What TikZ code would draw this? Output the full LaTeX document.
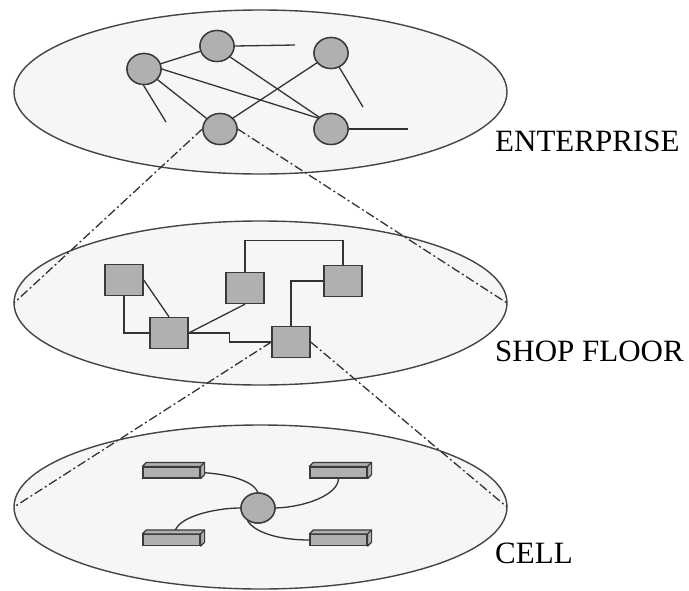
\documentclass[tikz,border=0pt]{standalone}
\usepackage{fontspec}
\setmainfont{Liberation Serif}
\usetikzlibrary{shapes.geometric,calc}
\definecolor{planefill}{HTML}{F6F6F6}
\definecolor{planeedge}{HTML}{444444}
\definecolor{nodefill}{HTML}{B0B0B0}
\definecolor{nodeedge}{HTML}{3A3A3A}
\definecolor{wire}{HTML}{333333}
\begin{document}
\begin{tikzpicture}[x=1pt,y=-1pt,
  plane/.style={ellipse,draw=planeedge,line width=1.4pt,fill=planefill,inner sep=0pt,outer sep=0pt},
  station/.style={ellipse,draw=nodeedge,line width=1.4pt,fill=nodefill,inner sep=0pt,minimum width=34pt,minimum height=31pt},
  machine/.style={rectangle,draw=nodeedge,line width=1.4pt,fill=nodefill,inner sep=0pt,minimum width=38pt,minimum height=31pt},
  device/.style={rectangle,draw=nodeedge,line width=1.2pt,fill=nodefill,inner sep=0pt,minimum width=57pt,minimum height=11pt},
  barface/.style={draw=nodeedge,line width=1.2pt,fill=nodefill,line join=round},
  wireline/.style={draw=wire,line width=1.3pt},
  zoomline/.style={draw=wire,line width=1.3pt,dash pattern=on 9pt off 3pt on 2pt off 3pt},
  level/.style={anchor=base west,inner sep=0pt,font=\fontsize{31}{37}\selectfont}]
\useasboundingbox (0,0) rectangle (689,590);

% planes
\node[plane,minimum width=493pt,minimum height=164pt] (ent) at (260.5,92) {};
\node[plane,minimum width=493pt,minimum height=164pt] (shop) at (260.5,303) {};
\node[plane,minimum width=493pt,minimum height=164pt] (cell) at (260.5,507) {};

% enterprise stations
\node[station] (A) at (144,69) {};
\node[station] (B) at (217,46) {};
\node[station] (C) at (331,53) {};
\node[station] (D) at (220,129) {};
\node[station] (E) at (331,129) {};

% shop floor machines
\node[machine] (S1) at (124,280) {};
\node[machine] (S2) at (169,333) {};
\node[machine] (S3) at (245,288) {};
\node[machine] (S4) at (343,281) {};
\node[machine] (S5) at (291,342) {};

% zoom lines
\draw[zoomline] (D.west) -- (shop.west);
\draw[zoomline] (D.east) -- (shop.east);
\draw[zoomline] (S5.west) -- (cell.west);
\draw[zoomline] (S5.east) -- (cell.east);

% enterprise connections
\coordinate (Bf) at (295,45);
\coordinate (Cf) at (363,107);
\coordinate (Af) at (166,122);
\coordinate (Ef) at (408,129);
\draw[wireline] (A) -- (B);
\draw[wireline] (B.east) -- (Bf);
\draw[wireline] (A.east) -- (E.140);
\draw[wireline] (B.-40) -- (E.135);
\draw[wireline] (A) -- (D);
\draw[wireline] (D.40) -- (C.215);
\draw[wireline] (C.-60) -- (Cf);
\draw[wireline] (A.-92) -- (Af);
\draw[wireline] (E.east) -- (Ef);

% shop floor connections
\draw[wireline] (S1.south) |- (S2.west);
\draw[wireline] (S1.east) -- (S2.north);
\draw[wireline] (S2.east) -- (S3.south);
\draw[wireline] (S2.east) -- ++(41,0) |- (S5.west);
\draw[wireline] (S3.north) -- ++(0,-31) -| (S4.north);
\draw[wireline] (S4.west) -| (S5.north);

% redraw nodes on top
\foreach \n in {A,B,C,D,E} {\node[station] at (\n) {};}
\foreach \n in {S1,S2,S3,S4,S5} {\node[machine] at (\n) {};}

% cell
\node[station,minimum width=34pt,minimum height=30pt] (hub) at (258,508) {};
\node[device] (tl) at (171.5,472.5) {};
\node[device] (tr) at (338.5,472.5) {};
\node[device] (bl) at (171.5,540) {};
\node[device] (br) at (338.5,540) {};

\draw[wireline] (tl.east) .. controls (230,474) and (253,481) .. (hub.north);
\draw[wireline] (tr.south) .. controls (338,495) and (305,507) .. (hub.east);
\draw[wireline] ([xshift=3pt]bl.north) .. controls (175,517) and (215,508) .. (hub.west);
\draw[wireline] (br.west) .. controls (280,540) and (255,533) .. (hub.-130);

\foreach \b in {tl,tr,bl,br} {
  \node[device] at (\b) {};
  \draw[barface] (\b.north west) -- ++(4,-4) -- ([shift={(4,-4)}]\b.north east)
     -- ([shift={(4,-4)}]\b.south east) -- (\b.south east) -- (\b.north east) -- cycle;
  \draw[nodeedge,line width=1.2pt] (\b.north east) -- ++(4,-4);
}
\node[station,minimum width=34pt,minimum height=30pt] at (hub) {};

% labels
\node[level] (lent) at (495,151) {ENTERPRISE};
\node[level] (lshop) at (495,361) {SHOP FLOOR};
\node[level] (lcell) at (495,563) {CELL};
\end{tikzpicture}
\end{document}
